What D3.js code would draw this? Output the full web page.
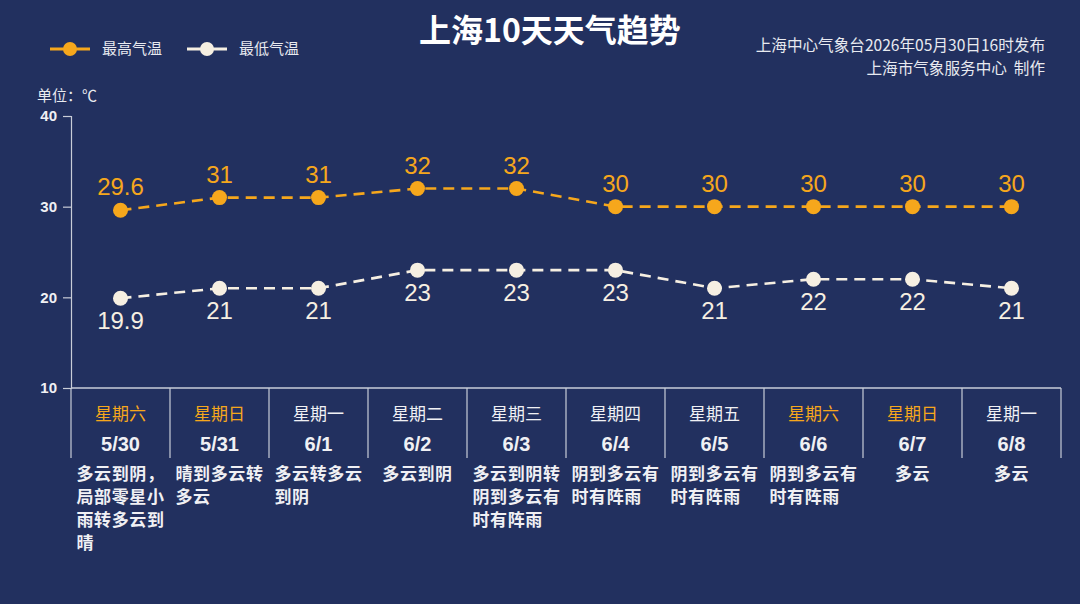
<!DOCTYPE html>
<html>
<head>
<meta charset="utf-8">
<script src="https://cdn.jsdelivr.net/npm/d3@7"></script>
<style>
	html, body { margin: 0; padding: 0; background: #22305f; }
	svg { display: block; font-family: "Noto Sans CJK SC", "Noto Sans", sans-serif; }
</style>
</head>
<body>
<svg id="chart" width="1080" height="604"></svg>
<script>
const dates = ['5/30', '5/31', '6/1', '6/2', '6/3', '6/4', '6/5', '6/6', '6/7', '6/8'];
const weekdays = ['星期六', '星期日', '星期一', '星期二', '星期三', '星期四', '星期五', '星期六', '星期日', '星期一'];
const weather = [
	'多云到阴，局部零星小雨转多云到晴',
	'晴到多云转多云',
	'多云转多云到阴',
	'多云到阴',
	'多云到阴转阴到多云有时有阵雨',
	'阴到多云有时有阵雨',
	'阴到多云有时有阵雨',
	'阴到多云有时有阵雨',
	'多云',
	'多云'
];
const highs = [29.6, 31, 31, 32, 32, 30, 30, 30, 30, 30];
const lows = [19.9, 21, 21, 23, 23, 23, 21, 22, 22, 21];
const yTicks = [10, 20, 30, 40];

const ORANGE = '#f6a71c';
const CREAM = '#f6efe2';
const AXIS = '#c9cdd8';

const svg = d3.select('#chart');
const plotLeft = 71, plotRight = 1061, plotTop = 116, plotBottom = 388;

const x = d3.scaleBand().domain(dates).range([plotLeft, plotRight]);
const y = d3.scaleLinear().domain([10, 40]).range([plotBottom, plotTop]);
const cx = d => x(d) + x.bandwidth() / 2;

// title + header texts
svg.append('text')
	.attr('x', 550).attr('y', 42)
	.attr('text-anchor', 'middle')
	.attr('fill', '#fff')
	.attr('font-size', 32)
	.attr('font-weight', 'bold')
	.text('上海10天天气趋势');

svg.append('text')
	.attr('x', 1045).attr('y', 51)
	.attr('text-anchor', 'end')
	.attr('fill', '#e8eaf0')
	.attr('font-size', 15.6)
	.text('上海中心气象台2026年05月30日16时发布');
svg.append('text')
	.attr('x', 1045).attr('y', 74)
	.attr('text-anchor', 'end')
	.attr('fill', '#e8eaf0')
	.attr('font-size', 15.6)
	.attr('xml:space', 'preserve')
	.text('上海市气象服务中心  制作');

// legend
const legend = [
	{ name: '最高气温', color: ORANGE, x0: 50 },
	{ name: '最低气温', color: CREAM, x0: 187 }
];
const lg = svg.append('g').selectAll('g').data(legend).enter().append('g')
	.attr('transform', d => `translate(${d.x0},49)`);
lg.append('line')
	.attr('x1', 0).attr('x2', 40)
	.attr('stroke', d => d.color).attr('stroke-width', 3);
lg.append('circle')
	.attr('cx', 20).attr('r', 7)
	.attr('fill', d => d.color);
lg.append('text')
	.attr('x', 52).attr('y', 5)
	.attr('fill', '#e8eaf0')
	.attr('font-size', 15)
	.text(d => d.name);

svg.append('text')
	.attr('x', 37).attr('y', 101)
	.attr('fill', '#e8eaf0')
	.attr('font-size', 15)
	.text('单位：℃');

// y axis
const yAxis = svg.append('g')
	.attr('transform', `translate(${plotLeft},0)`)
	.call(d3.axisLeft(y).tickValues(yTicks).tickSize(8).tickPadding(6));
yAxis.select('.domain').attr('stroke', AXIS).attr('stroke-width', 1.2);
yAxis.selectAll('.tick line').attr('stroke', AXIS).attr('stroke-width', 1.2);
yAxis.selectAll('.tick text')
	.attr('fill', '#f0f0f4')
	.attr('font-size', 15)
	.attr('font-weight', 'bold')
	.attr('font-family', 'Liberation Sans, Arial, sans-serif');

// x axis line + column dividers
svg.append('line')
	.attr('x1', plotLeft).attr('x2', plotRight)
	.attr('y1', plotBottom).attr('y2', plotBottom)
	.attr('stroke', AXIS).attr('stroke-width', 1.5);
const bounds = dates.map(d => x(d)).concat([plotRight]);
svg.append('g').selectAll('line').data(bounds).enter().append('line')
	.attr('x1', d => d).attr('x2', d => d)
	.attr('y1', plotBottom).attr('y2', 458)
	.attr('stroke', AXIS).attr('stroke-width', 1.2);

const weekend = w => w === '星期六' || w === '星期日';

svg.append('g').selectAll('text').data(dates).enter().append('text')
	.attr('x', cx).attr('y', 420)
	.attr('text-anchor', 'middle')
	.attr('font-size', 17)
	.attr('fill', (d, i) => weekend(weekdays[i]) ? ORANGE : '#f0f0f4')
	.text((d, i) => weekdays[i]);

svg.append('g').selectAll('text').data(dates).enter().append('text')
	.attr('x', cx).attr('y', 451)
	.attr('text-anchor', 'middle')
	.attr('font-size', 20)
	.attr('font-weight', 'bold')
	.attr('fill', '#f0f0f4')
	.attr('font-family', 'Liberation Sans, Arial, sans-serif')
	.text(d => d);

// weather descriptions, wrapped 5 chars per line, block centred in column
const charW = 17.6;
dates.forEach((d, i) => {
	const chars = Array.from(weather[i]);
	const lines = [];
	for (let k = 0; k < chars.length; k += 5) lines.push(chars.slice(k, k + 5).join(''));
	const maxLen = d3.max(lines, l => l.length);
	const x0 = cx(d) - maxLen * charW / 2;
	const t = svg.append('text')
		.attr('fill', '#f0f0f4')
		.attr('font-size', 17)
		.attr('font-weight', 'bold')
		.attr('letter-spacing', 0.6);
	lines.forEach((l, j) => {
		t.append('tspan').attr('x', x0).attr('y', 480 + j * 23).text(l);
	});
});

// lines
const line = d3.line().x((v, i) => cx(dates[i])).y(v => y(v));

const series = [
	{ values: highs, color: ORANGE, dy: -15 },
	{ values: lows, color: CREAM, dy: 31 }
];

series.forEach(s => {
	svg.append('path')
		.datum(s.values)
		.attr('d', line)
		.attr('fill', 'none')
		.attr('stroke', s.color)
		.attr('stroke-width', 2.6)
		.attr('stroke-dasharray', '11,7');
	svg.append('g').selectAll('circle').data(s.values).enter().append('circle')
		.attr('cx', (v, i) => cx(dates[i]))
		.attr('cy', v => y(v))
		.attr('r', 7.5)
		.attr('fill', s.color);
	svg.append('g').selectAll('text').data(s.values).enter().append('text')
		.attr('x', (v, i) => cx(dates[i]))
		.attr('y', v => y(v) + s.dy)
		.attr('text-anchor', 'middle')
		.attr('font-size', 24)
		.attr('font-family', 'Liberation Sans, Arial, sans-serif')
		.attr('fill', s.color)
		.text(v => v);
});
</script>
</body>
</html>
